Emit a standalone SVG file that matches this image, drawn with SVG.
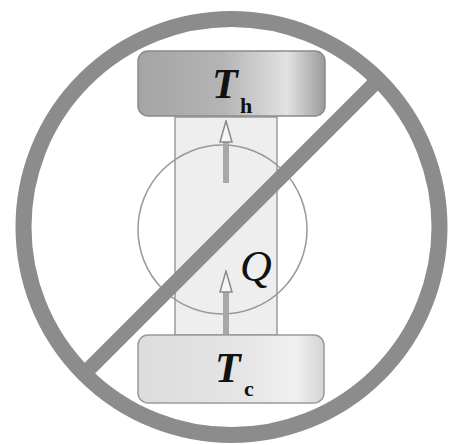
<svg xmlns="http://www.w3.org/2000/svg" width="449" height="445" viewBox="0 0 449 445">
<defs>
<linearGradient id="hot" x1="0" y1="0" x2="1" y2="0">
<stop offset="0" stop-color="#a4a4a4"/>
<stop offset="0.45" stop-color="#b4b4b4"/>
<stop offset="0.8" stop-color="#e2e2e2"/>
<stop offset="1" stop-color="#9a9a9a"/>
</linearGradient>
<linearGradient id="cold" x1="0" y1="0" x2="1" y2="0">
<stop offset="0" stop-color="#dcdcdc"/>
<stop offset="0.6" stop-color="#e6e6e6"/>
<stop offset="0.85" stop-color="#f0f0f0"/>
<stop offset="1" stop-color="#d4d4d4"/>
</linearGradient>
<marker id="head" markerWidth="24" markerHeight="16" refX="2" refY="8" orient="auto" markerUnits="userSpaceOnUse" viewBox="0 0 24 16">
<path d="M23,8 L2,2 L2,14 Z" fill="#f6f6f6" stroke="#8a8a8a" stroke-width="1.5"/>
</marker>
<style>
.lbl{font-family:"Liberation Serif","Times New Roman",serif;fill:#111}
.shaft{stroke:#a8a8a8;stroke-width:6;fill:none}
</style>
</defs>
<rect width="449" height="445" fill="#ffffff"/>
<g id="column">
<rect x="175" y="117" width="102" height="218" fill="#eeeeee" stroke="#9a9a9a" stroke-width="1.5"/>
</g>
<g id="hot-reservoir">
<rect x="138" y="51" width="187" height="65" rx="10" fill="url(#hot)" stroke="#8a8a8a" stroke-width="1.5"/>
<text class="lbl" x="212" y="98" font-size="42" font-weight="bold" font-style="italic">T</text>
<text class="lbl" x="240" y="113" font-size="22" font-weight="bold">h</text>
</g>
<g id="cold-reservoir">
<rect x="138" y="335" width="186" height="68" rx="10" fill="url(#cold)" stroke="#9a9a9a" stroke-width="1.5"/>
<text class="lbl" x="215" y="382" font-size="42" font-weight="bold" font-style="italic">T</text>
<text class="lbl" x="244" y="396" font-size="22" font-weight="bold">c</text>
</g>
<g id="device">
<circle cx="222.5" cy="229.5" r="84.5" fill="none" stroke="#999999" stroke-width="1.5"/>
<text class="lbl" x="240" y="281" font-size="44" font-style="italic">Q</text>
</g>
<g id="connectors">
<line class="shaft" x1="226" y1="183" x2="226" y2="142" marker-end="url(#head)"/>
<line class="shaft" x1="226" y1="334" x2="226" y2="292" marker-end="url(#head)"/>
</g>
<g id="prohibition" stroke="#8c8c8c" stroke-width="16" fill="none">
<circle cx="231.5" cy="227" r="208"/>
<line x1="380" y1="78" x2="82" y2="376" stroke-width="15"/>
</g>
</svg>
